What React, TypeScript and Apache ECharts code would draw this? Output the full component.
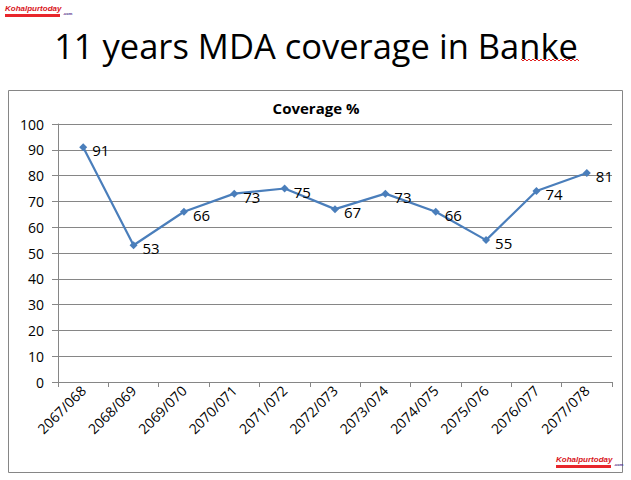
import React, { useEffect, useRef } from "react";
import * as echarts from "echarts";

const categories = [
  "2067/068", "2068/069", "2069/070", "2070/071", "2071/072", "2072/073",
  "2073/074", "2074/075", "2075/076", "2076/077", "2077/078",
];
const coverage = [91, 53, 66, 73, 75, 67, 73, 66, 55, 74, 81];

const mainTitle = "11 years MDA coverage in Banke";
const chartTitle = "Coverage %";

function wavy(x0: number, x1: number, y: number) {
  const pts: number[][] = [];
  let up = true;
  for (let x = x0; x <= x1; x += 2) {
    pts.push([x, up ? y : y + 2]);
    up = !up;
  }
  return pts;
}

function logo(x: number, y: number) {
  return {
    type: "group",
    x,
    y,
    children: [
      {
        type: "text",
        x: 0,
        y: 0,
        style: {
          text: "Kohalpurtoday",
          fill: "#d9141b",
          font: "italic bold 8px 'Liberation Sans'",
          textVerticalAlign: "top",
        },
      },
      {
        type: "text",
        x: 58,
        y: 7,
        style: {
          text: ".com",
          fill: "#4b2b8a",
          font: "bold 4px 'Liberation Sans'",
          textVerticalAlign: "top",
        },
      },
      {
        type: "rect",
        shape: { x: 0, y: 10, width: 55, height: 3 },
        style: { fill: "#e8262b" },
      },
    ],
  };
}

export default function App() {
  const ref = useRef<HTMLDivElement>(null);
  useEffect(() => {
    document.body.style.margin = "0";
    const chart = echarts.init(ref.current!, undefined, { renderer: "svg" });
    chart.setOption({
      animation: false,
      backgroundColor: "#ffffff",
      grid: { left: 58, top: 124, right: 19, bottom: 98, containLabel: false },
      xAxis: {
        type: "category",
        data: categories,
        boundaryGap: true,
        axisLine: { lineStyle: { color: "#868686", width: 1 } },
        axisTick: { show: true, length: 5, lineStyle: { color: "#868686" } },
        axisLabel: {
          rotate: 45,
          fontSize: 14,
          color: "#000",
          margin: 6,
          fontFamily: "'Open Sans', sans-serif",
        },
        splitLine: { show: false },
      },
      yAxis: {
        type: "value",
        min: 0,
        max: 100,
        interval: 10,
        axisLine: { show: true, lineStyle: { color: "#868686", width: 1 } },
        axisTick: { show: true, length: 6, lineStyle: { color: "#868686" } },
        axisLabel: {
          fontSize: 14,
          color: "#000",
          margin: 14,
          fontFamily: "'Open Sans', sans-serif",
        },
        splitLine: { lineStyle: { color: "#868686", width: 1 } },
      },
      series: [
        {
          type: "line",
          data: coverage,
          symbol: "diamond",
          symbolSize: 8,
          lineStyle: { color: "#4a7ebb", width: 2.2 },
          itemStyle: { color: "#4a7ebb" },
          label: {
            show: true,
            position: "right",
            distance: 5,
            offset: [0, 3],
            fontSize: 15,
            color: "#000",
            fontFamily: "'Open Sans', sans-serif",
          },
        },
      ],
      graphic: [
        {
          type: "rect",
          shape: { x: 8.5, y: 90.5, width: 614, height: 382 },
          style: { fill: "none", stroke: "#868686", lineWidth: 1 },
          z: -1,
        },
        {
          type: "text",
          x: 316,
          y: 45,
          style: {
            text: mainTitle,
            fill: "#000",
            font: "34.5px 'Open Sans', sans-serif",
            textAlign: "center",
            textVerticalAlign: "middle",
          },
        },
        {
          type: "polyline",
          shape: { points: wavy(521, 580, 59) },
          style: { stroke: "#e02020", lineWidth: 1, fill: "none" },
        },
        {
          type: "text",
          x: 316,
          y: 108,
          style: {
            text: chartTitle,
            fill: "#000",
            font: "bold 15px 'Open Sans', sans-serif",
            textAlign: "center",
            textVerticalAlign: "middle",
          },
        },
        logo(5, 4),
        logo(556, 455),
      ],
    });
    return () => chart.dispose();
  }, []);
  return <div ref={ref} style={{ width: 631, height: 480 }} />;
}
